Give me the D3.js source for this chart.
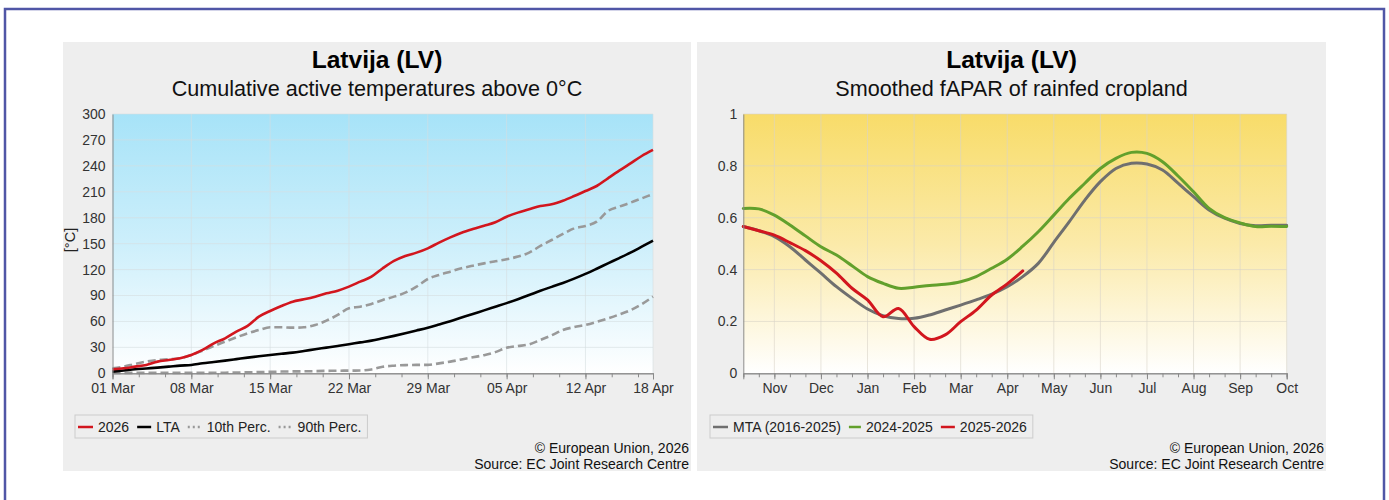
<!DOCTYPE html>
<html><head><meta charset="utf-8">
<script src="https://cdn.jsdelivr.net/npm/d3@7"></script>
<style>
body{margin:0;background:#fff;}
svg{display:block;font-family:"Liberation Sans",Arial,sans-serif;}
</style></head><body>
<svg id="c" width="1389" height="500"></svg>
<script>
// ---------- DATA: left chart (cumulative active temperatures) ----------
const tempStart = "2026-03-01";
const tempTickDays = [0, 7, 14, 21, 28, 35, 42, 48];
const tempTickLabels = ["01 Mar","08 Mar","15 Mar","22 Mar","29 Mar","05 Apr","12 Apr","18 Apr"];
const tempYTicks = [0, 30, 60, 90, 120, 150, 180, 210, 240, 270, 300];
const temp2026 = [4.6,5.8,7.7,9.6,13.5,15.4,17.4,21.2,27,34.7,40.5,48.2,54.8,65.5,72.1,77.9,82.9,85.6,88.7,92.5,95.6,100.3,106,111.8,121.5,130,135.7,139.6,144.6,151.2,157.3,162.7,167,170.8,174.7,181.2,185.9,189.7,193.6,195.5,199.7,205.1,210.9,216.7,225.6,234.4,242.9,251.4,258.4];
const tempLTA = [1.9,3.2,4.6,5.6,6.6,7.7,8.9,9.6,11.6,13.1,14.7,16.4,18.1,19.7,21.2,22.6,23.9,25.8,27.8,29.7,31.6,33.6,35.8,37.8,40.5,43.3,46.3,49.5,52.8,56.5,60.3,64.5,68.7,72.8,77,81.2,85.7,90.5,95.5,100,104.5,109.5,115,121,127.2,133.3,139.6,146.5,153.5];
const tempP10 = [0.5,0.5,0.5,0.5,0.5,0.5,0.5,0.5,0.5,0.6,0.7,0.9,1.1,1.4,1.7,2.0,2.2,2.3,2.5,2.8,3.0,3.1,3.2,4.5,7.5,8.8,9.5,9.7,9.8,11.5,13.5,16,18.5,21,24.5,29.5,31.5,33.5,38.6,44,50,53.5,56,59.5,63.6,68,73,80,88.7];
const tempP90 = [5.8,7.7,10.8,13.5,15.4,16.2,17.4,21.2,26.2,31.6,36.6,41.6,46.3,50.1,53.2,53.2,52.8,53.2,55.9,60.9,67.5,75.2,77.1,80.2,84.8,88.7,93.3,100.3,109.1,113.8,117.6,121.5,124.5,127.2,129.6,131.9,135,139.6,147.3,154.2,161.2,167.7,170.4,175.4,187.8,192.8,197.4,202.4,207.4];
const tempLegend = ["2026", "LTA", "10th Perc.", "90th Perc."];

// ---------- DATA: right chart (smoothed fAPAR, dekads Oct d2 .. Oct d1) ----------
const faparMonths = ["Nov","Dec","Jan","Feb","Mar","Apr","May","Jun","Jul","Aug","Sep","Oct"];
const faparYTicks = [0, 0.2, 0.4, 0.6, 0.8, 1];
const faparMTA = [0.566,0.55,0.527,0.488,0.437,0.386,0.334,0.289,0.248,0.222,0.211,0.212,0.225,0.244,0.263,0.283,0.305,0.334,0.373,0.424,0.505,0.585,0.668,0.739,0.79,0.81,0.807,0.784,0.733,0.681,0.63,0.598,0.578,0.569,0.571,0.571];
const fapar2425 = [0.636,0.634,0.61,0.572,0.53,0.488,0.456,0.415,0.373,0.347,0.328,0.332,0.339,0.343,0.353,0.373,0.405,0.44,0.49,0.546,0.61,0.675,0.733,0.79,0.829,0.852,0.848,0.816,0.761,0.70,0.636,0.60,0.58,0.566,0.567,0.566];
const fapar2526 = [0.566,0.55,0.533,0.504,0.473,0.434,0.386,0.328,0.283,0.218,0.25,0.18,0.131,0.148,0.199,0.244,0.302,0.345,0.395];
const faparLegend = ["MTA (2016-2025)", "2024-2025", "2025-2026"];

const titleText = "Latvija (LV)";
const copyText = ["© European Union, 2026", "Source: EC Joint Research Centre"];

// ---------- DRAW ----------
const svg = d3.select("#c");
const defs = svg.append("defs");
function grad(id, top, mid, bottom) {
  const g = defs.append("linearGradient").attr("id", id).attr("x1",0).attr("y1",0).attr("x2",0).attr("y2",1);
  g.append("stop").attr("offset","0%").attr("stop-color", top);
  g.append("stop").attr("offset","50%").attr("stop-color", mid);
  g.append("stop").attr("offset","100%").attr("stop-color", bottom);
}
grad("gBlue", "#a7e3f8", "#cdeffb", "#ffffff");
grad("gYel", "#f8dc69", "#fbeaa9", "#ffffff");

// outer frame
svg.append("rect").attr("x",5).attr("y",9).attr("width",1379).attr("height",600)
  .attr("fill","none").attr("stroke","#5056a6").attr("stroke-width",2.5);

function panel(px, pw, subtitle) {
  const g = svg.append("g");
  g.append("rect").attr("x",px).attr("y",42).attr("width",pw).attr("height",429).attr("fill","#eeeeee");
  const cx = px + pw/2;
  g.append("text").attr("x",cx).attr("y",68).attr("text-anchor","middle")
    .attr("font-size",24.6).attr("font-weight","bold").attr("fill","#000").text(titleText);
  g.append("text").attr("x",cx).attr("y",96).attr("text-anchor","middle")
    .attr("font-size",21.6).attr("fill","#111").text(subtitle);
  copyText.forEach((t,i) => g.append("text").attr("x",px+pw-2).attr("y",453+i*16)
    .attr("text-anchor","end").attr("font-size",14).attr("fill","#111").text(t));
  return g;
}

function legend(g, x0, items) {
  const lg = g.append("g");
  const box = lg.append("rect").attr("x",x0).attr("y",415).attr("height",23)
    .attr("fill","#eeeeee").attr("stroke","#cccccc");
  let cur = x0 + 3;
  items.forEach(it => {
    lg.append("line").attr("x1",cur).attr("x2",cur+it.len).attr("y1",427).attr("y2",427)
      .attr("stroke",it.color).attr("stroke-width",2.5)
      .attr("stroke-dasharray", it.dash ? "2,3" : null);
    const t = lg.append("text").attr("x",cur+it.len+5).attr("y",432).attr("font-size",14)
      .attr("fill","#222").text(it.label);
    cur = cur + it.len + 5 + t.node().getComputedTextLength() + 8;
  });
  box.attr("width", cur - x0 - 2);
}

// ---- Left chart ----
{
  const g = panel(63, 628, "Cumulative active temperatures above 0°C");
  const start = d3.timeParse("%Y-%m-%d")(tempStart);
  const day = d => new Date(start.getTime() + d*864e5);
  const dates = temp2026.map((_, i) => day(i));
  const x = d3.scaleTime().domain([day(0), day(48)]).range([112.5, 653]);
  const y = d3.scaleLinear().domain([0, 300]).range([373.3, 114]);
  g.append("rect").attr("x",x.range()[0]).attr("y",y(300)).attr("width",x.range()[1]-x.range()[0])
    .attr("height",y(0)-y(300)).attr("fill","url(#gBlue)");
  g.append("g").selectAll("line").data(tempYTicks.slice(1)).join("line")
    .attr("x1",x.range()[0]).attr("x2",x.range()[1]).attr("y1",d=>y(d)).attr("y2",d=>y(d))
    .attr("stroke","#d6dde0").attr("stroke-opacity",0.6);
  g.append("g").selectAll("line").data(tempTickDays.slice(1)).join("line")
    .attr("x1",d=>x(day(d))).attr("x2",d=>x(day(d))).attr("y1",y(0)).attr("y2",y(300))
    .attr("stroke","#d6dde0").attr("stroke-opacity",0.6);
  const line = arr => d3.line().x((d,i)=>x(dates[i])).y(d=>y(d)).curve(d3.curveMonotoneX)(arr);
  [[tempP10,"#999999",true],[tempP90,"#999999",true],[tempLTA,"#000000",false],[temp2026,"#d2161e",false]]
    .forEach(([arr,c,dash]) => g.append("path").attr("d",line(arr)).attr("fill","none")
      .attr("stroke",c).attr("stroke-width",2.6).attr("stroke-dasharray",dash?"8,4":null)
      .attr("stroke-linejoin","round"));
  g.append("g").attr("transform",`translate(${x.range()[0]},0)`)
    .call(d3.axisLeft(y).tickValues(tempYTicks).tickSize(0).tickPadding(7));
  const minor = d3.range(0, 48.01, 7/3).map(day);
  g.append("g").attr("transform",`translate(0,${y(0)})`)
    .call(d3.axisBottom(x).tickValues(minor).tickSize(4).tickFormat(""));
  g.append("g").attr("transform",`translate(0,${y(0)})`)
    .call(d3.axisBottom(x).tickValues(tempTickDays.map(day)).tickSize(6).tickPadding(4)
      .tickFormat((d,i)=>tempTickLabels[i]));
  g.append("text").attr("transform","translate(75,240) rotate(-90)").attr("text-anchor","middle")
    .attr("font-size",14.5).attr("fill","#222").text("[°C]");
  legend(g, 75, [
    {label:tempLegend[0], color:"#d2161e", len:15},
    {label:tempLegend[1], color:"#000000", len:14},
    {label:tempLegend[2], color:"#999999", len:14, dash:true},
    {label:tempLegend[3], color:"#999999", len:14, dash:true}]);
}

// ---- Right chart ----
{
  const g = panel(697, 629, "Smoothed fAPAR of rainfed cropland");
  const x = d3.scaleLinear().domain([0, 35]).range([743.3, 1286.7]);
  const y = d3.scaleLinear().domain([0, 1]).range([373.3, 114]);
  g.append("rect").attr("x",x.range()[0]).attr("y",y(1)).attr("width",x.range()[1]-x.range()[0])
    .attr("height",y(0)-y(1)).attr("fill","url(#gYel)");
  const monthIdx = faparMonths.map((m,i)=>2+3*i);
  g.append("g").selectAll("line").data(faparYTicks.slice(1)).join("line")
    .attr("x1",x.range()[0]).attr("x2",x.range()[1]).attr("y1",d=>y(d)).attr("y2",d=>y(d))
    .attr("stroke","#d8d4c8").attr("stroke-opacity",0.6);
  g.append("g").selectAll("line").data(monthIdx).join("line")
    .attr("x1",d=>x(d)).attr("x2",d=>x(d)).attr("y1",y(0)).attr("y2",y(1))
    .attr("stroke","#d8d4c8").attr("stroke-opacity",0.6);
  const line = arr => d3.line().x((d,i)=>x(i)).y(d=>y(d)).curve(d3.curveCatmullRom.alpha(0.5))(arr);
  [[faparMTA,"#6f6f6f"],[fapar2425,"#62a02c"],[fapar2526,"#d2161e"]]
    .forEach(([arr,c]) => g.append("path").attr("d",line(arr)).attr("fill","none")
      .attr("stroke",c).attr("stroke-width",3).attr("stroke-linejoin","round").attr("stroke-linecap","round"));
  g.append("g").attr("transform",`translate(${x.range()[0]},0)`)
    .call(d3.axisLeft(y).tickValues(faparYTicks).tickSize(0).tickPadding(6).tickFormat(d3.format("~g")));
  g.append("g").attr("transform",`translate(0,${y(0)})`)
    .call(d3.axisBottom(x).tickValues(d3.range(0,36)).tickSize(4).tickFormat(""));
  g.append("g").attr("transform",`translate(0,${y(0)})`)
    .call(d3.axisBottom(x).tickValues(monthIdx).tickSize(6).tickPadding(4)
      .tickFormat((d,i)=>faparMonths[i]));
  legend(g, 710, [
    {label:faparLegend[0], color:"#6f6f6f", len:15},
    {label:faparLegend[1], color:"#62a02c", len:12},
    {label:faparLegend[2], color:"#d2161e", len:14}]);
}

svg.selectAll(".domain").attr("stroke","#8a8a8a");
svg.selectAll(".tick line").attr("stroke","#8a8a8a");
svg.selectAll(".tick text").attr("font-size",14).attr("fill","#333")
  .attr("font-family","'Liberation Sans',Arial,sans-serif");
</script></body></html>
